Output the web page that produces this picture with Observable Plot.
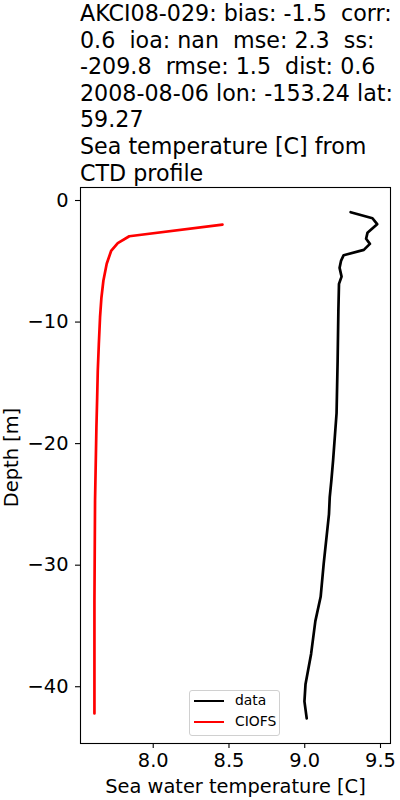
<!DOCTYPE html>
<html>
<head>
<meta charset="utf-8">
<script src="https://cdn.jsdelivr.net/npm/d3@7"></script>
<script src="https://cdn.jsdelivr.net/npm/@observablehq/plot@0.6"></script>
<style>
  html, body { margin: 0; padding: 0; background: #fff; }
  #wrap { position: relative; width: 400px; height: 800px; font-family: "DejaVu Sans", sans-serif; }
  #title { height: 186px; padding-left: 80px; font-size: 22.2px; line-height: 26.6px; color: #000; white-space: pre; }
  #legend { position: absolute; left: 189px; top: 690px; width: 89px; height: 44px; border: 1px solid #d0d0d0; border-radius: 3px; background: rgba(255,255,255,0.8); font-size: 13.9px; color: #000; }
  .lrow { position: absolute; left: 0; height: 18px; }
  .lline { position: absolute; left: 4px; width: 30px; height: 2.7px; }
  .ltext { position: absolute; left: 45px; top: 0; line-height: 18px; }
  svg { display: block; }
</style>
</head>
<body>
<div id="wrap">
  <div id="title"></div>
  <div id="chart"></div>
  <div id="legend"></div>
</div>
<script>
const titleLines = [
  "AKCI08-029: bias: -1.5  corr:",
  "0.6  ioa: nan  mse: 2.3  ss:",
  "-209.8  rmse: 1.5  dist: 0.6",
  "2008-08-06 lon: -153.24 lat:",
  "59.27",
  "Sea temperature [C] from",
  "CTD profile"
];
const seriesNames = ["data", "CIOFS"];
const seriesColors = ["#000000", "#ff0000"];

const dataTemp  = [9.303, 9.447, 9.478, 9.414, 9.405, 9.43, 9.39, 9.257, 9.24, 9.23, 9.243, 9.226, 9.222, 9.217, 9.21, 9.187, 9.176, 9.165, 9.16, 9.125, 9.105, 9.07, 9.042, 9.005, 8.998, 9.013];
const dataDepth = [-0.96, -1.46, -1.95, -2.66, -3.15, -3.57, -4.06, -4.5, -4.94, -5.54, -6.26, -6.86, -9.05, -13.2, -17.5, -21.4, -23.0, -24.4, -25.8, -29.9, -32.6, -34.6, -37.3, -39.8, -41.2, -42.6];

const modelTemp  = [8.457, 7.842, 7.766, 7.722, 7.693, 7.671, 7.658, 7.649, 7.641, 7.634, 7.630, 7.625, 7.616, 7.612, 7.612];
const modelDepth = [-1.98, -2.94, -3.5, -4.15, -5.2, -6.6, -8.0, -9.6, -11.8, -14.0, -16.2, -18.7, -24.7, -32.9, -42.2];

const xTicks = [8.0, 8.5, 9.0, 9.5];
const yTicks = [0, -10, -20, -30, -40];
const xLabel = "Sea water temperature [C]";
const yLabel = "Depth [m]";

document.getElementById("title").textContent = titleLines.join("\n");

const obs = dataTemp.map((t, i) => ({temp: t, depth: dataDepth[i]}));
const mod = modelTemp.map((t, i) => ({temp: t, depth: modelDepth[i]}));

const chart = Plot.plot({
  width: 400,
  height: 614,
  marginTop: 1,
  marginBottom: 57,
  marginLeft: 80,
  marginRight: 10,
  style: { fontFamily: "DejaVu Sans", fontSize: "19.4px", color: "#000", background: "#fff" },
  x: { domain: [7.52, 9.566] },
  y: { domain: [-44.67, 1.07] },
  marks: [
    Plot.line(obs, { x: "temp", y: "depth", stroke: seriesColors[0], strokeWidth: 2.7 }),
    Plot.line(mod, { x: "temp", y: "depth", stroke: seriesColors[1], strokeWidth: 2.7 }),
    Plot.frame({ stroke: "#000", strokeWidth: 1.1 }),
    Plot.axisX({ ticks: xTicks, tickFormat: d3.format(".1f"), tickSize: 5, tickPadding: 5, strokeWidth: 1.1, label: null }),
    Plot.axisY({ ticks: yTicks, tickFormat: d3.format("d"), tickSize: 5, tickPadding: 7, strokeWidth: 1.1, label: null }),
    Plot.text([xLabel], { text: d => d, frameAnchor: "bottom", lineAnchor: "bottom", textAnchor: "middle", dy: 49, fontSize: 19.4, fill: "#000" }),
    Plot.text([yLabel], { text: d => d, frameAnchor: "left", lineAnchor: "top", textAnchor: "middle", rotate: -90, dx: -76, dy: -8, fontSize: 19.4, fill: "#000" })
  ]
});
document.getElementById("chart").appendChild(chart);

const legend = document.getElementById("legend");
seriesNames.forEach((name, i) => {
  const row = document.createElement("div");
  row.className = "lrow";
  row.style.top = (i * 21) + "px";
  row.style.width = "89px";
  const ln = document.createElement("div");
  ln.className = "lline";
  ln.style.top = "8.5px";
  ln.style.background = seriesColors[i];
  const tx = document.createElement("div");
  tx.className = "ltext";
  tx.textContent = name;
  row.appendChild(ln);
  row.appendChild(tx);
  legend.appendChild(row);
});
</script>
</body>
</html>
